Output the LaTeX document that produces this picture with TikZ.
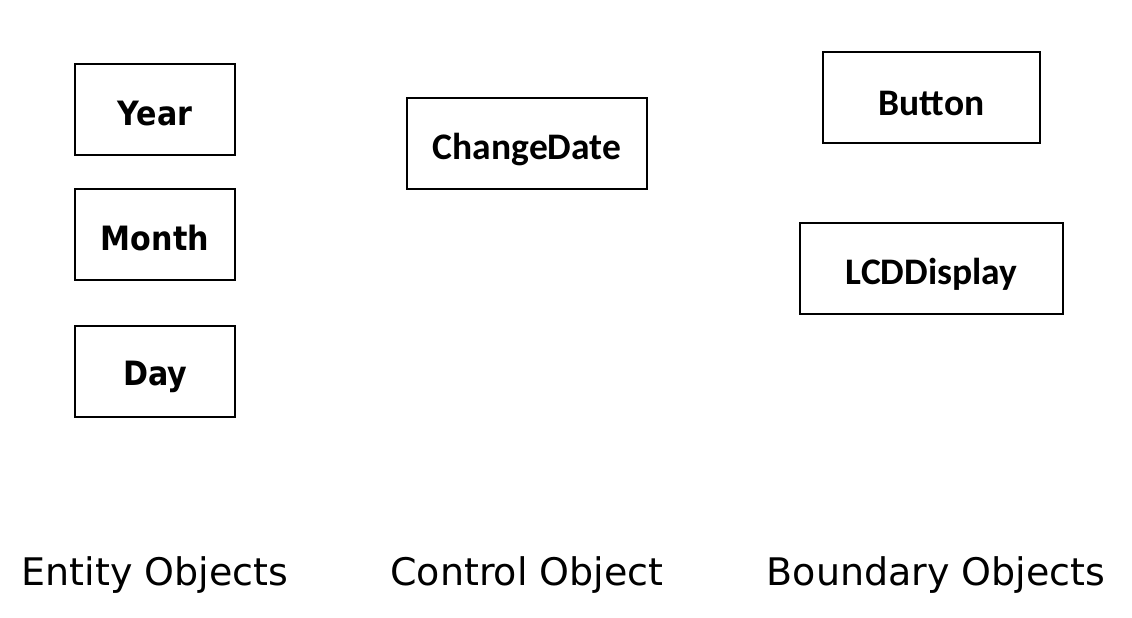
\documentclass[tikz,border=0pt]{standalone}
\usepackage{fontspec}
\setmainfont{DejaVu Sans}
\newfontfamily\boxfont{Carlito}
\newfontfamily\entfont{DejaVu Sans Condensed}
\begin{document}
\begin{tikzpicture}[x=1pt,y=-1pt,
  obj/.style={draw=black,line width=1.2pt,minimum height=91pt,inner sep=0pt,text depth=0pt,text height=31pt},
  ent/.style={obj,minimum width=160pt,font=\entfont\fontsize{33.5}{40}\selectfont\bfseries},
  cal/.style={obj,font=\boxfont\fontsize{37.5}{44}\selectfont\bfseries},
  cat/.style={inner sep=0pt,anchor=base,font=\fontsize{38}{44}\selectfont}]
\useasboundingbox (0,0) rectangle (1132,618);
\node[ent] (year) at (155,109.5) {Year};
\node[ent] (month) at (155,234.5) {Month};
\node[ent,text height=27pt] (day) at (155,371.5) {Day};
\node[cal,minimum width=240pt] (change) at (527,143.5) {ChangeDate};
\node[cal,minimum width=217pt,text height=35pt] (button) at (931.5,97.5) {Button};
\node[cal,minimum width=263pt] (lcd) at (931.5,268.5) {LCDDisplay};
\node[cat] (entity) at (155,585) {Entity Objects};
\node[cat] (control) at (527,585) {Control Object};
\node[cat] (boundary) at (936,585) {Boundary Objects};
\end{tikzpicture}
\end{document}
